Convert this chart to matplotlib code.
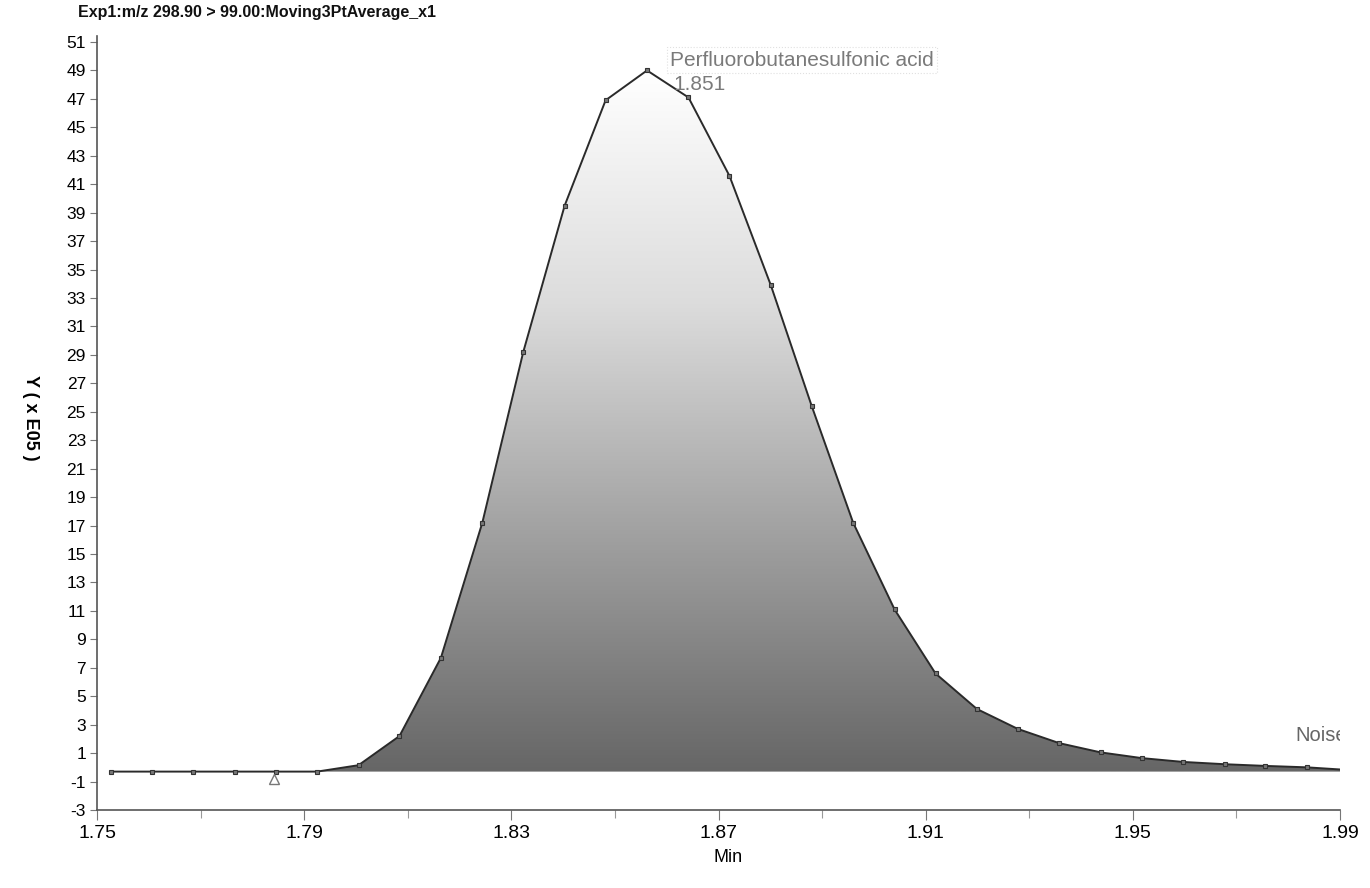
import numpy as np
import matplotlib
matplotlib.use("Agg")
import matplotlib.pyplot as plt
from matplotlib.colors import LinearSegmentedColormap

plt.rcParams['font.family'] = ['Liberation Sans', 'DejaVu Sans']

# ---- data ----
times = [1.7527, 1.7606, 1.7686, 1.7766, 1.7846, 1.7925, 1.8005, 1.8084,
         1.8164, 1.8244, 1.8323, 1.8403, 1.8482, 1.8562, 1.8642, 1.8721,
         1.8801, 1.8880, 1.8960, 1.9040, 1.9119, 1.9199, 1.9278, 1.9358,
         1.9438, 1.9517, 1.9597, 1.9677, 1.9756, 1.9836, 1.9900]
intensity = [-0.3, -0.3, -0.3, -0.3, -0.3, -0.3, 0.15, 2.2,
             7.7, 17.2, 29.2, 39.5, 46.9, 49.0, 47.1, 41.6,
             33.9, 25.4, 17.2, 11.1, 6.6, 4.1, 2.7, 1.7,
             1.05, 0.65, 0.38, 0.22, 0.1, 0.0, -0.15]
baseline = -0.3
peak_name = "Perfluorobutanesulfonic acid"
peak_rt = "1.851"
start_marker = (1.7842, -0.83)
title = "Exp1:m/z 298.90 > 99.00:Moving3PtAverage_x1"
x_ticks = [1.75, 1.79, 1.83, 1.87, 1.91, 1.95, 1.99]
y_ticks = list(range(-3, 52, 2))

fig = plt.figure(figsize=(13.7, 8.88), dpi=100)
ax = fig.add_axes([97/1370, 1-810/888, (1340-97)/1370, (810-36.3)/888])
ax.set_xlim(1.75, 1.99)
ax.set_ylim(-3, 51.4)

# gradient fill under the peak
poly = ax.fill_between(times, intensity, baseline, color='none', lw=0)
cmap = LinearSegmentedColormap.from_list('g', ['#666666', '#a0a0a0', '#dcdcdc', '#ffffff'])
grad = np.linspace(0, 1, 256).reshape(-1, 1)
im = ax.imshow(grad, extent=[1.75, 1.99, baseline, max(intensity)], origin='lower',
               aspect='auto', cmap=cmap, zorder=1)
path = poly.get_paths()[0]
im.set_clip_path(path, transform=ax.transData)

ax.plot(times, intensity, color='#2a2a2a', lw=1.4, zorder=3)
ax.plot(times[:-1], intensity[:-1], ls='none', marker='s', ms=3.5, mfc='#777777',
        mec='#333333', mew=0.8, zorder=4)
ax.plot([start_marker[0]], [start_marker[1]], marker='^', ms=7, mfc='none',
        mec='#777777', mew=1.0, ls='none', zorder=4)

ax.text(1.8606, 49.73, peak_name, color='#7a7a7a', fontsize=15, va='center', ha='left',
        bbox=dict(boxstyle='square,pad=0.15', fc='none', ec='#e0e0e0', ls=':', lw=0.8), zorder=5)
ax.text(1.8612, 48.0, peak_rt, color='#7a7a7a', fontsize=15, va='center', ha='left', zorder=5)
ax.text(1.9813, 2.27, "Noise", color='#666666', fontsize=14.5, va='center', ha='left',
        clip_on=True, zorder=5)

for s in ['top', 'right']:
    ax.spines[s].set_visible(False)
for s in ['left', 'bottom']:
    ax.spines[s].set_color('#555555')
    ax.spines[s].set_linewidth(1.2)

ax.set_xticks(x_ticks)
ax.set_xticklabels([f"{v:.2f}" for v in x_ticks])
ax.set_xticks([1.77, 1.81, 1.85, 1.89, 1.93, 1.97], minor=True)
ax.set_yticks(y_ticks)
ax.set_yticklabels([str(v) for v in y_ticks])
ax.tick_params(axis='x', labelsize=14, length=7, width=0.8, color='#777777', pad=4)
ax.tick_params(axis='x', which='minor', length=6, width=0.8, color='#999999')
ax.tick_params(axis='y', labelsize=12.5, length=5, width=0.8, color='#777777', pad=3)

fig.text(78/1370, 1-13/888, title, fontsize=11.5, va='center', ha='left', color='#111111',
         fontweight='bold')
fig.text(728/1370, 1-857/888, "Min", fontsize=13, va='center', ha='center')
fig.text(30/1370, 1-418/888, "Y ( x E05 )", fontsize=13, rotation=-90, va='center',
         ha='center', fontweight='bold')

fig.savefig("out.png", dpi=100)
